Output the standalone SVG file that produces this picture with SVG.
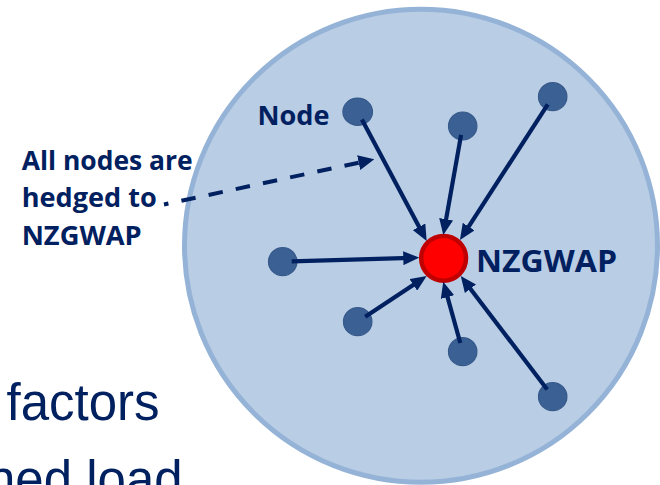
<svg xmlns="http://www.w3.org/2000/svg" width="660" height="485" viewBox="0 0 660 485">
  <defs>
    <style>
      .label { font-family: "Open Sans", "Noto Sans", "DejaVu Sans", sans-serif; font-weight: bold; fill: #002060; }
      .body { font-family: "Liberation Sans", Arial, sans-serif; font-size: 51px; fill: #002060; }
      .node { fill: #3B6194; stroke: #36598A; stroke-width: 1.2; }
      .edge { fill: none; stroke: #002060; stroke-width: 4.2; }
      .dash { fill: none; stroke: #002060; stroke-width: 4; stroke-dasharray: 14.5 13.3; stroke-dashoffset: 10; }
    </style>
    <!-- solid arrowhead: 16 long, 14 wide, tip placed at the path end + 8 -->
    <marker id="head" markerUnits="userSpaceOnUse" markerWidth="16" markerHeight="14" refX="8" refY="7" orient="auto" viewBox="0 0 16 14">
      <path d="M0,0 L16,7 L0,14 Z" fill="#002060"/>
    </marker>
    <marker id="headDash" markerUnits="userSpaceOnUse" markerWidth="16" markerHeight="15" refX="8" refY="7.5" orient="auto" viewBox="0 0 16 15">
      <path d="M0,0 L16,7.5 L0,15 Z" fill="#002060"/>
    </marker>
  </defs>

  <rect width="660" height="485" fill="#FFFFFF"/>

  <!-- background body text, partly cut at the edges -->
  <text class="body" x="6.5" y="420">factors</text>
  <text class="body" x="-13" y="496.5">ned load</text>

  <!-- hedging region -->
  <g id="region">
    <circle cx="421" cy="245.7" r="236.5" fill="#B9CDE5" stroke="#95B3D7" stroke-width="5"/>
  </g>

  <!-- callout text on the left -->
  <g id="callout">
    <text class="label" x="21.7" y="170" font-size="27" textLength="171" lengthAdjust="spacingAndGlyphs">All nodes are</text>
    <text class="label" x="21.7" y="207.3" font-size="27" textLength="135" lengthAdjust="spacingAndGlyphs">hedged to</text>
    <text class="label" x="21.7" y="245" font-size="27" textLength="120" lengthAdjust="spacingAndGlyphs">NZGWAP</text>
  </g>

  <!-- nodes -->
  <g id="node-a">
    <ellipse class="node" cx="357.7" cy="111.7" rx="14.8" ry="13.6"/>
    <text class="label" x="257.5" y="125" font-size="26.5" textLength="72" lengthAdjust="spacingAndGlyphs">Node</text>
  </g>
  <g id="node-b"><ellipse class="node" cx="462.7" cy="126" rx="14.2" ry="14"/></g>
  <g id="node-c"><ellipse class="node" cx="552.7" cy="96.7" rx="14.2" ry="14"/></g>
  <g id="node-d"><ellipse class="node" cx="282.7" cy="261.7" rx="14.2" ry="14"/></g>
  <g id="node-e"><ellipse class="node" cx="357.7" cy="321.7" rx="14.2" ry="14"/></g>
  <g id="node-f"><ellipse class="node" cx="462.7" cy="351.7" rx="14.2" ry="14"/></g>
  <g id="node-g"><ellipse class="node" cx="552.7" cy="396.7" rx="14.2" ry="14"/></g>

  <!-- hub -->
  <g id="hub">
    <circle cx="443.6" cy="258.3" r="22.4" fill="#FF0000" stroke="#C00000" stroke-width="4.5"/>
    <text class="label" x="476" y="271.7" font-size="30" textLength="141" lengthAdjust="spacingAndGlyphs">NZGWAP</text>
  </g>

  <!-- connectors -->
  <g id="connectors">
    <line class="edge" x1="361.9" y1="119.6" x2="422.9" y2="233.9" marker-end="url(#head)"/>
    <line class="edge" x1="461.1" y1="134.9" x2="444.7" y2="227.1" marker-end="url(#head)"/>
    <line class="edge" x1="547.8" y1="104.3" x2="464.3" y2="233.3" marker-end="url(#head)"/>
    <line class="edge" x1="291.7" y1="261.4" x2="411.3" y2="257.9" marker-end="url(#head)"/>
    <line class="edge" x1="365.2" y1="316.7" x2="420.0" y2="280.4" marker-end="url(#head)"/>
    <line class="edge" x1="460.3" y1="343.0" x2="445.4" y2="289.4" marker-end="url(#head)"/>
    <line class="edge" x1="547.2" y1="389.5" x2="465.6" y2="282.4" marker-end="url(#head)"/>
    <line class="dash" x1="164" y1="204.5" x2="366.5" y2="161.0" marker-end="url(#headDash)"/>
  </g>
</svg>
